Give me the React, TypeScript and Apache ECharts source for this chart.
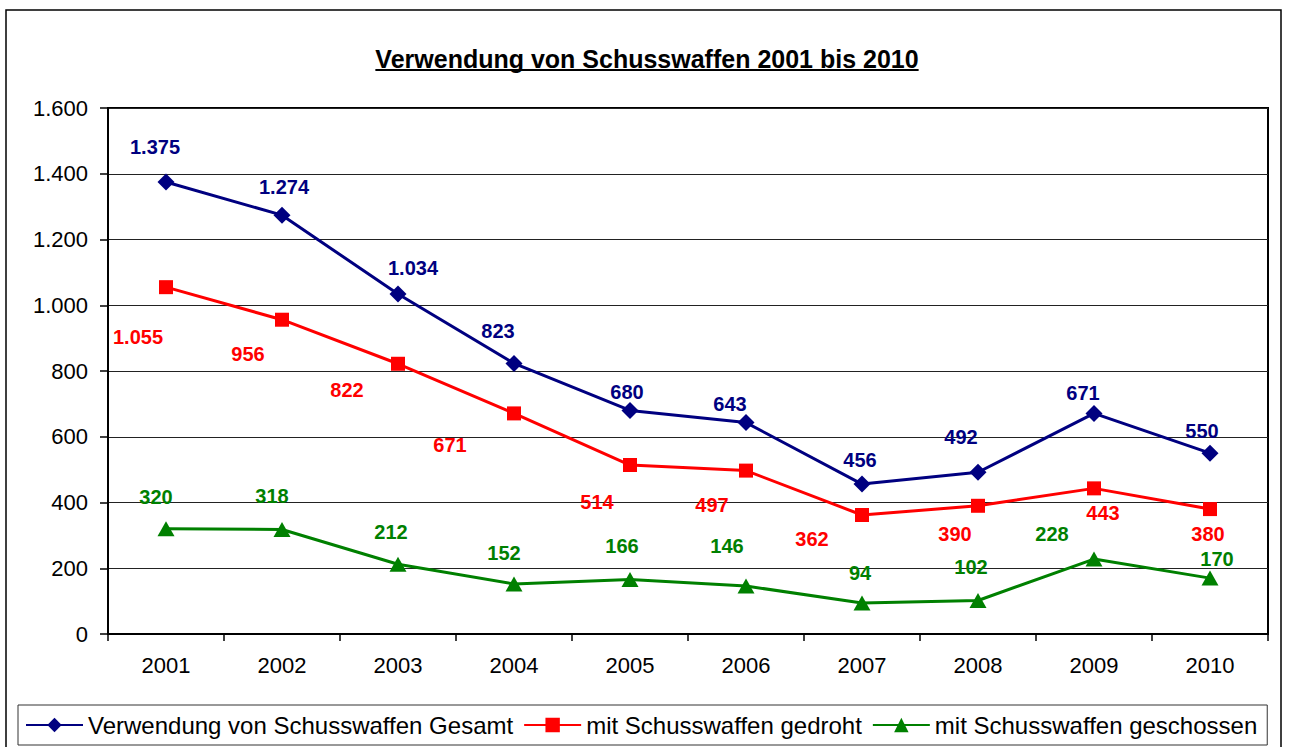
import React, { useEffect, useRef } from "react";
import * as echarts from "echarts";

const years = ["2001", "2002", "2003", "2004", "2005", "2006", "2007", "2008", "2009", "2010"];
const gesamt = [1375, 1274, 1034, 823, 680, 643, 456, 492, 671, 550];
const gedroht = [1055, 956, 822, 671, 514, 497, 362, 390, 443, 380];
const geschossen = [320, 318, 212, 152, 166, 146, 94, 102, 228, 170];
const seriesNames = [
  "Verwendung von Schusswaffen Gesamt",
  "mit Schusswaffen gedroht",
  "mit Schusswaffen geschossen",
];
const titleText = "Verwendung von Schusswaffen 2001 bis 2010";
const yMin = 0;
const yMax = 1600;
const yInterval = 200;

// label placement (layout only, relative to each point)
const offGesamt = [[-11, -35], [2, -28], [15, -26], [-16, -32], [-3, -18], [-16, -19], [-2, -24], [-17, -35], [-11, -20], [-8, -22]];
const offGedroht = [[-28, 50], [-34, 34], [-51, 26], [-64, 32], [-33, 37], [-34, 34], [-50, 24], [-23, 28], [9, 25], [-2, 25]];
const offGeschossen = [[-10, -32], [-10, -33], [-7, -32], [-10, -31], [-8, -33], [-19, -40], [-2, -30], [-7, -33], [-42, -25], [7, -19]];

const FONT = '"Liberation Sans", Arial, sans-serif';
const fmt = (v: number) => String(v).replace(/\B(?=(\d{3})+(?!\d))/g, ".");

function measure(text: string, font: string): number {
  const c = document.createElement("canvas").getContext("2d");
  if (!c) return 548;
  c.font = font;
  return c.measureText(text).width;
}

export default function App() {
  const ref = useRef<HTMLDivElement>(null);
  useEffect(() => {
    if (!ref.current) return;
    const chart = echarts.init(ref.current, undefined, { renderer: "svg" });
    const titleSize = 25;
    const titleCx = 647;
    const tw = measure(titleText, `bold ${titleSize}px ${FONT}`);

    const mk = (name: string, vals: number[], offs: number[][], color: string, symbol: string, size: any) => ({
      name,
      type: "line",
      data: vals.map((v, i) => ({ value: v, label: { offset: offs[i] } })),
      symbol,
      symbolSize: size,
      lineStyle: { color, width: 3 },
      itemStyle: { color },
      label: {
        show: true,
        position: "inside",
        color,
        fontFamily: FONT,
        fontWeight: "bold",
        fontSize: 20,
        formatter: (p: any) => fmt(p.value),
      },
      emphasis: { disabled: true },
    });

    chart.setOption({
      animation: false,
      backgroundColor: "#fff",
      title: {
        text: titleText,
        left: titleCx - tw / 2,
        top: 46,
        padding: 0,
        textStyle: { fontFamily: FONT, fontWeight: "bold", fontSize: titleSize, color: "#000" },
      },
      graphic: [
        {
          type: "rect",
          shape: { x: 6, y: 10, width: 1275, height: 760 },
          style: { fill: "none", stroke: "#000", lineWidth: 1.5 },
          silent: true,
        },
        {
          type: "line",
          shape: { x1: titleCx - tw / 2, y1: 70, x2: titleCx + tw / 2, y2: 70 },
          style: { stroke: "#000", lineWidth: 2 },
          silent: true,
        },
      ],
      legend: {
        left: 18,
        top: 705,
        padding: [8, 10, 8, 7],
        itemGap: 10,
        itemWidth: 57,
        itemHeight: 18,
        borderColor: "#333",
        borderWidth: 1,
        textStyle: { fontFamily: FONT, fontSize: 24, color: "#000" },
        data: seriesNames,
      },
      grid: {
        left: 108,
        top: 108,
        right: 22,
        bottom: 113,
        show: true,
        borderColor: "#000",
        borderWidth: 2,
        backgroundColor: "#fff",
      },
      xAxis: {
        type: "category",
        data: years,
        boundaryGap: true,
        axisLine: { lineStyle: { color: "#000", width: 2 } },
        axisTick: { show: true, length: 7, lineStyle: { color: "#000", width: 1.5 } },
        axisLabel: { margin: 20, color: "#000", fontFamily: FONT, fontSize: 22 },
      },
      yAxis: {
        type: "value",
        min: yMin,
        max: yMax,
        interval: yInterval,
        axisLine: { show: true, lineStyle: { color: "#000", width: 2 } },
        axisTick: { show: true, length: 8, lineStyle: { color: "#000", width: 1.5 } },
        axisLabel: { margin: 20, color: "#000", fontFamily: FONT, fontSize: 22, formatter: (v: number) => fmt(v) },
        splitLine: { show: true, lineStyle: { color: "#222", width: 1 } },
      },
      series: [
        mk(seriesNames[0], gesamt, offGesamt, "#000080", "diamond", 17),
        mk(seriesNames[1], gedroht, offGedroht, "#FF0000", "rect", 14),
        mk(seriesNames[2], geschossen, offGeschossen, "#008000", "triangle", [17, 15]),
      ],
    });
    return () => chart.dispose();
  }, []);
  return <div ref={ref} style={{ position: "fixed", left: 0, top: 0, width: 1290, height: 747 }} />;
}
